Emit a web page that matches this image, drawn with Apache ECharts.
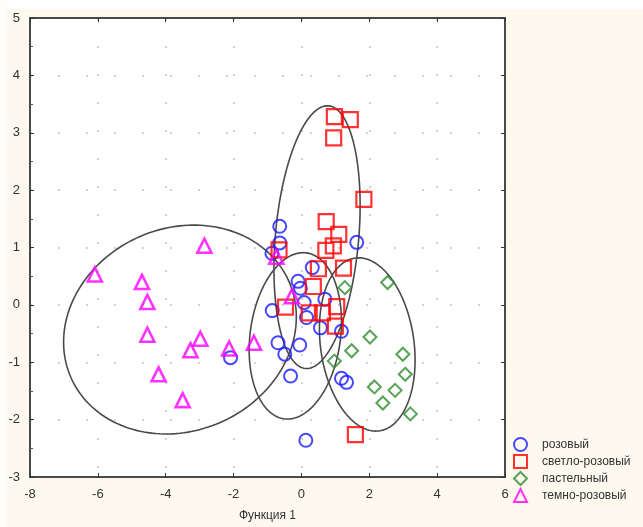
<!DOCTYPE html>
<html>
<head>
<meta charset="utf-8">
<script src="https://cdn.jsdelivr.net/npm/echarts@6/dist/echarts.min.js"></script>
<style>
  html, body { margin: 0; padding: 0; background: #fdf9ef; }
  #chart { width: 643px; height: 527px; }
</style>
</head>
<body>
<div id="chart"></div>
<script>
// Group names shown in the legend
const groupNames = ['розовый', 'светло-розовый', 'пастельный', 'темно-розовый'];

// Canonical scores [Функция 1, Функция 2] for each group
const rozovy = [
  [-0.64, 1.37], [-0.64, 1.08], [-0.87, 0.90], [1.63, 1.09], [0.32, 0.65],
  [-0.10, 0.41], [-0.03, 0.29], [-0.86, -0.10], [0.08, 0.04], [0.15, -0.22],
  [0.69, 0.10], [0.56, -0.40], [1.18, -0.46], [-0.69, -0.66], [-0.05, -0.70],
  [-0.49, -0.86], [-0.32, -1.24], [1.18, -1.28], [1.33, -1.35], [0.13, -2.36],
  [-2.09, -0.92]
];
const svetloRozovy = [
  [0.97, 3.28], [1.44, 3.23], [0.95, 2.91], [1.84, 1.84], [0.73, 1.45],
  [1.10, 1.23], [0.94, 1.03], [0.72, 0.95], [-0.66, 0.96], [1.24, 0.64],
  [0.50, 0.63], [0.35, 0.32], [-0.47, -0.04], [0.23, -0.14], [0.62, -0.14],
  [1.04, -0.03], [1.00, -0.37], [1.59, -2.26]
];
const pastelny = [
  [1.28, 0.30], [2.54, 0.39], [2.02, -0.56], [1.48, -0.80], [0.97, -0.98],
  [2.99, -0.86], [3.06, -1.21], [2.15, -1.43], [2.76, -1.49], [2.40, -1.71],
  [3.21, -1.90]
];
const temnoRozovy = [
  [-6.09, 0.53], [-2.86, 1.03], [-4.70, 0.40], [-4.54, 0.05], [-4.54, -0.52],
  [-2.98, -0.59], [-3.27, -0.79], [-4.21, -1.21], [-3.50, -1.66], [-2.13, -0.76],
  [-1.40, -0.66], [-0.74, 0.84], [-0.28, 0.15]
];

// Confidence ellipses: centre, half-extent along each axis, correlation
const ellipseCx  = [-3.58, 0.46, -0.18, 1.94];
const ellipseCy  = [-0.43, 1.18, -0.54, -0.69];
const ellipseRx  = [3.43, 1.27, 1.36, 1.41];
const ellipseRy  = [1.82, 2.29, 1.45, 1.51];
const ellipseRho = [0.12, 0.24, 0.17, -0.18];

// Axis ranges and tick steps
const xMin = -8, xMax = 6, xStep = 2;
const yMin = -3, yMax = 5, yStep = 1;

const chart = echarts.init(document.getElementById('chart'), null, { renderer: 'canvas' });

const markerStyle = [
  { symbol: 'circle',   size: 13, color: '#1a1aff', width: 2 },
  { symbol: 'rect',     size: 15, color: '#ff0000', width: 2.2 },
  { symbol: 'diamond',  size: 13, color: '#2e8b2e', width: 2 },
  { symbol: 'triangle', size: 14, color: '#ff00ff', width: 2.6 }
];
const groupData = [rozovy, svetloRozovy, pastelny, temnoRozovy];

const scatterSeries = groupData.map((pts, i) => ({
  name: groupNames[i],
  type: 'scatter',
  xAxisIndex: 0,
  yAxisIndex: 0,
  data: pts,
  symbol: markerStyle[i].symbol,
  symbolSize: markerStyle[i].size,
  itemStyle: {
    color: 'rgba(0,0,0,0)',
    borderColor: markerStyle[i].color,
    borderWidth: markerStyle[i].width
  },
  emphasis: { disabled: true },
  z: 5
}));

const ellipseSeries = {
  type: 'custom',
  xAxisIndex: 0,
  yAxisIndex: 0,
  silent: true,
  data: ellipseCx.map((cx, i) => [cx, ellipseCy[i]]),
  renderItem: function (params, api) {
    const i = params.dataIndex;
    const cx = api.value(0), cy = api.value(1);
    const rx = ellipseRx[i], ry = ellipseRy[i], rho = ellipseRho[i];
    const k = Math.sqrt(1 - rho * rho);
    const pts = [];
    const n = 180;
    for (let s = 0; s <= n; s++) {
      const t = (s / n) * Math.PI * 2;
      const x = cx + rx * Math.cos(t);
      const y = cy + ry * (rho * Math.cos(t) + k * Math.sin(t));
      pts.push(api.coord([x, y]));
    }
    return {
      type: 'polyline',
      shape: { points: pts },
      style: { fill: null, stroke: '#4a4a4a', lineWidth: 1.6 }
    };
  },
  z: 3
};

const labelFont = { color: '#333', fontSize: 13, fontFamily: 'Liberation Sans, Arial, sans-serif' };
const dotted = { color: '#c4c4c4', width: 1.5, type: [2, 26] };
const frameLine = { show: true, onZero: false, lineStyle: { color: '#4a4a4a', width: 2 } };
const innerTick = { show: true, inside: true, length: 4, lineStyle: { color: '#333' } };

chart.setOption({
  backgroundColor: '#fdf9ef',
  animation: false,
  graphic: [
    { type: 'rect', left: 0, top: 0, shape: { width: 643, height: 9 }, style: { fill: '#ffffff' }, silent: true },
    { type: 'rect', left: 0, top: 0, shape: { width: 7, height: 527 }, style: { fill: '#fefdf9' }, silent: true }
  ],
  grid: {
    left: 30, right: 138, top: 18, bottom: 49,
    show: true,
    backgroundColor: '#ffffff',
    borderColor: '#4a4a4a',
    borderWidth: 2
  },
  legend: {
    orient: 'vertical',
    left: 513,
    top: 437,
    padding: 0,
    itemWidth: 13,
    itemHeight: 13,
    itemGap: 2,
    selectedMode: false,
    textStyle: { color: '#333', fontSize: 12, lineHeight: 13, fontFamily: 'Liberation Sans, Arial, sans-serif', padding: [0, 0, 0, 10] },
    data: groupNames.map((n, i) => ({
      name: n,
      icon: markerStyle[i].symbol,
      itemStyle: { color: 'rgba(0,0,0,0)', borderColor: markerStyle[i].color, borderWidth: 2 }
    }))
  },
  xAxis: [
    {
      type: 'value', min: xMin, max: xMax, interval: xStep,
      name: 'Функция 1', nameLocation: 'middle', nameGap: 33,
      nameTextStyle: { color: '#333', fontSize: 12, fontFamily: 'Liberation Sans, Arial, sans-serif' },
      axisLine: frameLine,
      axisTick: innerTick,
      axisLabel: Object.assign({ margin: 11 }, labelFont),
      splitLine: { show: true, lineStyle: dotted }
    },
    {
      type: 'value', min: xMin, max: xMax, interval: xStep, position: 'top',
      axisLine: frameLine,
      axisTick: innerTick,
      axisLabel: { show: false },
      splitLine: { show: false }
    }
  ],
  yAxis: [
    {
      type: 'value', min: yMin, max: yMax, interval: yStep,
      axisLine: frameLine,
      axisTick: innerTick,
      minorTick: { show: true, splitNumber: 2, length: 3, lineStyle: { color: '#555' } },
      axisLabel: Object.assign({ margin: 10 }, labelFont),
      splitLine: { show: true, lineStyle: dotted }
    },
    {
      type: 'value', min: yMin, max: yMax, interval: yStep, position: 'right',
      axisLine: frameLine,
      axisTick: innerTick,
      axisLabel: { show: false },
      splitLine: { show: false }
    }
  ],
  series: [ellipseSeries].concat(scatterSeries)
});
</script>
</body>
</html>
